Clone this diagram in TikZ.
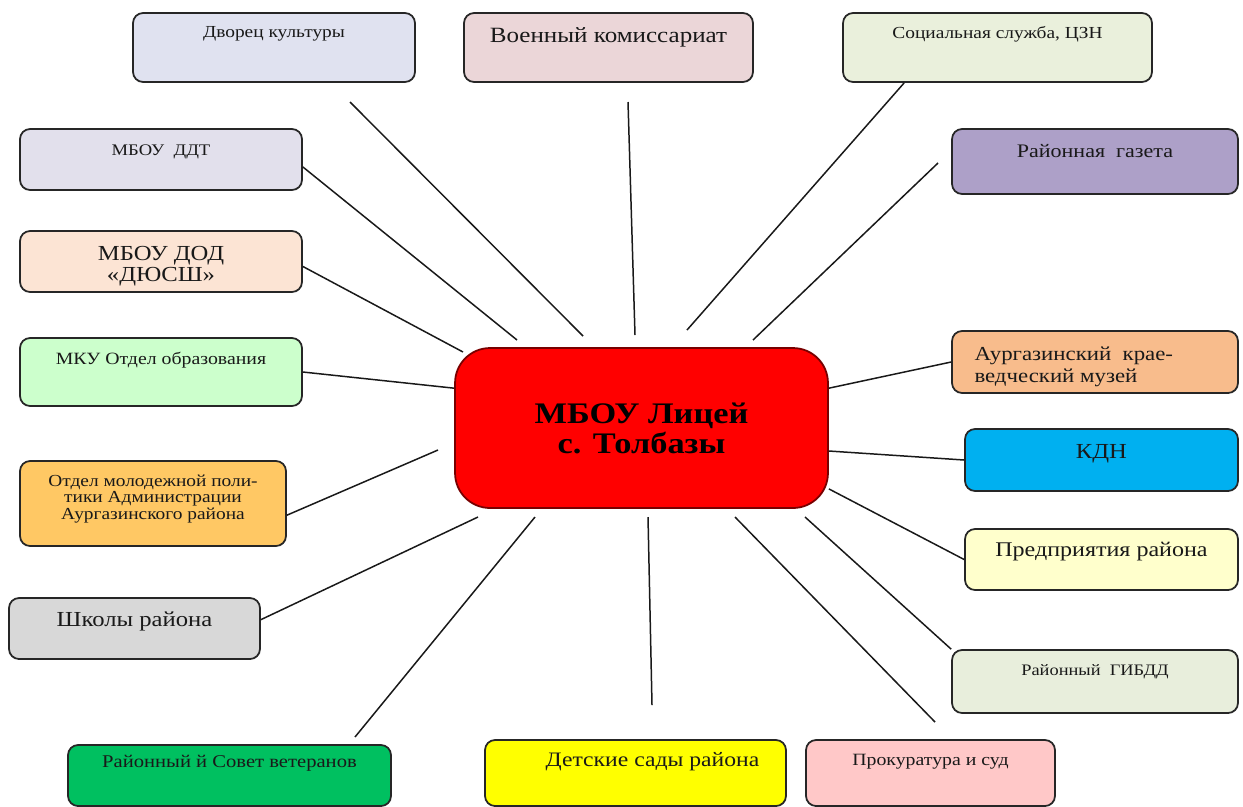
\documentclass[tikz,border=0pt]{standalone}
\usepackage{fontspec}
\setmainfont[FakeStretch=1.15]{Liberation Serif}
\usepackage{xcolor}
\usetikzlibrary{positioning,calc}

\definecolor{cDvorec}{RGB}{224,226,240}
\definecolor{cVoen}{RGB}{235,214,216}
\definecolor{cSoc}{RGB}{234,240,220}
\definecolor{cGazeta}{RGB}{173,160,200}
\definecolor{cDdt}{RGB}{226,224,236}
\definecolor{cDyussh}{RGB}{252,228,212}
\definecolor{cMku}{RGB}{204,255,204}
\definecolor{cMolod}{RGB}{255,200,100}
\definecolor{cShkoly}{RGB}{216,216,216}
\definecolor{cVeteran}{RGB}{0,192,96}
\definecolor{cSady}{RGB}{255,255,0}
\definecolor{cProk}{RGB}{255,200,200}
\definecolor{cGibdd}{RGB}{232,238,220}
\definecolor{cPredpr}{RGB}{255,255,204}
\definecolor{cKdn}{RGB}{0,176,240}
\definecolor{cMuzey}{RGB}{248,188,140}
\definecolor{cLicBorder}{RGB}{120,0,0}

\newcommand{\fsz}[2]{\fontsize{#1}{#2}\selectfont}

\tikzset{
    box/.style={draw=black!85, line width=1pt, rounded corners=0.2cm, inner sep=0pt},
    lbl/.style={inner sep=0pt, align=center, text=black!90},
    link/.style={line width=0.85pt, black!90},
}

\begin{document}
\begin{tikzpicture}[x=0.02cm, y=-0.02cm]
    \useasboundingbox (0,0) rectangle (1243,806);

    % centre
    \node[box, fill=red, draw=cLicBorder, rounded corners=0.7cm,
          minimum width=7.46cm, minimum height=3.2cm, align=center,
          font=\fsz{17}{17}\bfseries] (lic) at (641.5,428) {МБОУ Лицей\\с. Толбазы};

    % top row
    \node[box, fill=cDvorec, minimum width=5.64cm, minimum height=1.38cm] (dvorec) at (274,47.5) {};
    \node[lbl, font=\fsz{9.6}{11}, below=0.28cm of dvorec.north] {Дворец культуры};
    \node[box, fill=cVoen, minimum width=5.78cm, minimum height=1.38cm] (voen) at (608.5,47.5) {};
    \node[lbl, font=\fsz{12.4}{14}, below=0.3cm of voen.north] {Военный комиссариат};
    \node[box, fill=cSoc, minimum width=6.18cm, minimum height=1.38cm] (soc) at (997.5,47.5) {};
    \node[lbl, font=\fsz{9.6}{11}, below=0.28cm of soc.north] {Социальная служба, ЦЗН};

    % left column
    \node[box, fill=cDdt, minimum width=5.64cm, minimum height=1.22cm] (ddt) at (161,159.5) {};
    \node[lbl, font=\fsz{9.2}{11}, below=0.32cm of ddt.north] {МБОУ\ \ ДДТ};
    \node[box, fill=cDyussh, minimum width=5.64cm, minimum height=1.22cm] (dyussh) at (161,261.5) {};
    \node[lbl, font=\fsz{12.2}{12}, below=0.32cm of dyussh.north] {МБОУ ДОД\\«ДЮСШ»};
    \node[box, fill=cMku, minimum width=5.64cm, minimum height=1.36cm] (mku) at (161,372) {};
    \node[lbl, font=\fsz{9.8}{11}, below=0.3cm of mku.north] {МКУ Отдел образования};
    \node[box, fill=cMolod, minimum width=5.32cm, minimum height=1.7cm] (molod) at (153,503.5) {};
    \node[lbl, font=\fsz{9.6}{9.6}, below=0.28cm of molod.north] {Отдел молодежной поли-\\тики Администрации\\Аургазинского района};
    \node[box, fill=cShkoly, minimum width=5.02cm, minimum height=1.22cm] (shkoly) at (134.5,628.5) {};
    \node[lbl, font=\fsz{12.2}{14}, below=0.28cm of shkoly.north] {Школы района};

    % bottom row
    \node[box, fill=cVeteran, minimum width=6.46cm, minimum height=1.22cm] (veteran) at (229.5,775.5) {};
    \node[lbl, font=\fsz{10.2}{12}, below=0.22cm of veteran.north] {Районный й Совет ветеранов};
    \node[box, fill=cSady, minimum width=6.02cm, minimum height=1.32cm] (sady) at (635.5,773) {};
    \node[lbl, font=\fsz{11.7}{13}, below=0.26cm of sady.north, xshift=0.34cm] {Детские сады района};
    \node[box, fill=cProk, minimum width=4.98cm, minimum height=1.32cm] (prok) at (930.5,773) {};
    \node[lbl, font=\fsz{9.8}{11}, below=0.3cm of prok.north] {Прокуратура и суд};

    % right column
    \node[box, fill=cGazeta, minimum width=5.72cm, minimum height=1.3cm] (gazeta) at (1095,161.5) {};
    \node[lbl, font=\fsz{10.9}{13}, below=0.32cm of gazeta.north] {Районная\ \ газета};
    \node[box, fill=cMuzey, minimum width=5.72cm, minimum height=1.24cm] (muzey) at (1095,362) {};
    \node[lbl, align=left, font=\fsz{11.3}{12.5}, below right=0.32cm and 0.46cm of muzey.north west] {Аургазинский\ \ крае-\\ведческий музей};
    \node[box, fill=cKdn, minimum width=5.46cm, minimum height=1.24cm] (kdn) at (1101.5,460) {};
    \node[lbl, font=\fsz{12.2}{14}, below=0.32cm of kdn.north] {КДН};
    \node[box, fill=cPredpr, minimum width=5.46cm, minimum height=1.22cm] (predpr) at (1101.5,559.5) {};
    \node[lbl, font=\fsz{11.9}{14}, below=0.28cm of predpr.north] {Предприятия района};
    \node[box, fill=cGibdd, minimum width=5.72cm, minimum height=1.26cm] (gibdd) at (1095,681.5) {};
    \node[lbl, font=\fsz{9.1}{11}, below=0.3cm of gibdd.north] {Районный\ \ ГИБДД};

    % free ends of the spokes
    \coordinate (tDvorec) at (350,102);
    \coordinate (hDvorec) at (583,336);
    \coordinate (tVoen) at (628,102);
    \coordinate (hVoen) at (635,335);
    \coordinate (tSoc) at ($(soc.south west)+(62,0)$);
    \coordinate (hSoc) at (687,330);
    \coordinate (tGazeta) at (938,163);
    \coordinate (hGazeta) at (753,340);
    \coordinate (hDdt) at (517,340);
    \coordinate (hDyussh) at (463,352);
    \coordinate (hMolod) at (438,450);
    \coordinate (hShkoly) at (478,517);
    \coordinate (tVeteran) at (355,737);
    \coordinate (hVeteran) at (535,517);
    \coordinate (tSady) at (652,705);
    \coordinate (hSady) at (648,517);
    \coordinate (tProk) at (935,722);
    \coordinate (hProk) at (735,517);
    \coordinate (hGibdd) at (805,517);

    % spokes
    \foreach \a/\b in {tDvorec/hDvorec, tVoen/hVoen, tSoc/hSoc, tGazeta/hGazeta,
                       ddt.-3/hDdt, dyussh.-2/hDyussh, mku.east/lic.168,
                       molod.-5/hMolod, shkoly.4/hShkoly, tVeteran/hVeteran,
                       tSady/hSady, tProk/hProk, gibdd.north west/hGibdd,
                       predpr.west/lic.-18, kdn.west/lic.-7, muzey.west/lic.12}
        \draw[link] (\a) -- (\b);
\end{tikzpicture}
\end{document}
